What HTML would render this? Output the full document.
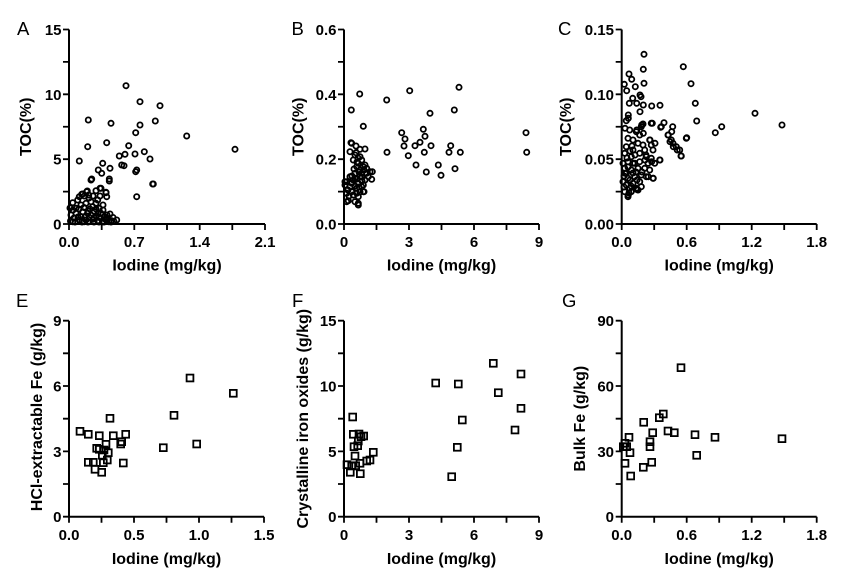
<!DOCTYPE html>
<html><head><meta charset="utf-8"><style>
html,body{margin:0;padding:0;background:#fff;}
svg{display:block;}
.ax{stroke:#000;stroke-width:2;fill:none;}
.tk{stroke:#000;stroke-width:1.8;}
.c circle{fill:none;stroke:#000;stroke-width:1.8;}
.s rect{fill:none;stroke:#000;stroke-width:1.8;}
text{font-family:"Liberation Sans",Arial,sans-serif;fill:#000;}
.tl{font-size:15px;font-weight:bold;}
.ti{font-size:16px;font-weight:bold;}
.pl{font-size:18.5px;}
</style></head><body>
<svg width="864" height="586" viewBox="0 0 864 586" xmlns="http://www.w3.org/2000/svg">
<rect width="864" height="586" fill="#fff"/>

<text class="pl" x="17" y="35">A</text>
<text class="pl" x="291.5" y="35">B</text>
<text class="pl" x="558" y="35">C</text>
<text class="pl" x="16" y="307">E</text>
<text class="pl" x="292" y="307">F</text>
<text class="pl" x="562" y="307">G</text>

<!-- ============ Panel A ============ -->
<path class="ax" d="M69,29.5 V225 M68,224 H265"/>
<path class="tk" d="M63,224H69M63,191.6H69M63,159.2H69M63,126.75H69M63,94.3H69M63,61.9H69M63,29.5H69
M69,224V230M101.7,224V230M134.3,224V230M167,224V230M199.7,224V230M232.3,224V230M265,224V230"/>
<g class="tl" text-anchor="end">
<text x="61.5" y="229.5">0</text><text x="61.5" y="164.7">5</text><text x="61.5" y="99.8">10</text><text x="61.5" y="35">15</text>
</g>
<g class="tl" text-anchor="middle">
<text x="69" y="247">0.0</text><text x="134.3" y="247">0.7</text><text x="199.7" y="247">1.4</text><text x="265" y="247">2.1</text>
</g>
<text class="ti" text-anchor="middle" x="167" y="270.5">Iodine (mg/kg)</text>
<text class="ti" text-anchor="middle" transform="translate(31,126.75) rotate(-90)">TOC(%)</text>
<g class="c">
<circle cx="126" cy="85.7" r="2.6"/><circle cx="140" cy="101.7" r="2.6"/><circle cx="160" cy="105.7" r="2.6"/>
<circle cx="88.3" cy="120" r="2.6"/><circle cx="111" cy="123.3" r="2.6"/><circle cx="155.3" cy="121" r="2.6"/>
<circle cx="140" cy="125" r="2.6"/><circle cx="135.7" cy="132.7" r="2.6"/><circle cx="186.7" cy="136" r="2.6"/>
<circle cx="106.7" cy="142.7" r="2.6"/><circle cx="128.7" cy="145.7" r="2.6"/><circle cx="87.7" cy="146.7" r="2.6"/>
<circle cx="235" cy="149.3" r="2.6"/><circle cx="119.3" cy="156" r="2.6"/><circle cx="125" cy="154.3" r="2.6"/>
<circle cx="135" cy="154" r="2.6"/><circle cx="144.3" cy="151.7" r="2.6"/><circle cx="150" cy="159" r="2.6"/>
<circle cx="79.3" cy="161" r="2.6"/><circle cx="102.7" cy="163.3" r="2.6"/><circle cx="121.7" cy="165" r="2.6"/>
<circle cx="124" cy="165.7" r="2.6"/><circle cx="110" cy="168.3" r="2.6"/><circle cx="98.3" cy="170" r="2.6"/>
<circle cx="101.7" cy="173.3" r="2.6"/><circle cx="136.7" cy="170" r="2.6"/><circle cx="135.7" cy="171.7" r="2.6"/>
<circle cx="91.7" cy="179" r="2.6"/><circle cx="109.3" cy="179" r="2.6"/><circle cx="153.3" cy="184" r="2.6"/>
<circle cx="106" cy="192.3" r="2.6"/><circle cx="136.7" cy="196.7" r="2.6"/><circle cx="100" cy="188.3" r="2.6"/>
<circle cx="91" cy="180" r="2.6"/><circle cx="109.3" cy="181" r="2.6"/><circle cx="152.7" cy="184" r="2.6"/>
<circle cx="72.7" cy="202.7" r="2.6"/><circle cx="79.3" cy="196.7" r="2.6"/><circle cx="82.7" cy="194" r="2.6"/>
<circle cx="86.7" cy="191.7" r="2.6"/><circle cx="84.3" cy="196" r="2.6"/><circle cx="88.7" cy="195" r="2.6"/>
<circle cx="96" cy="190.7" r="2.6"/><circle cx="101" cy="188.3" r="2.6"/><circle cx="106" cy="192.7" r="2.6"/>
<circle cx="106.7" cy="196.7" r="2.6"/><circle cx="76" cy="208.3" r="2.6"/><circle cx="81" cy="205" r="2.6"/>
<circle cx="86" cy="203.3" r="2.6"/><circle cx="91" cy="201.7" r="2.6"/><circle cx="96" cy="203.3" r="2.6"/>
<circle cx="97.7" cy="200" r="2.6"/><circle cx="92.7" cy="206.7" r="2.6"/><circle cx="99.3" cy="208.3" r="2.6"/>
<circle cx="101" cy="213.3" r="2.6"/><circle cx="71" cy="215" r="2.6"/><circle cx="76" cy="213.3" r="2.6"/>
<circle cx="82.7" cy="211.7" r="2.6"/><circle cx="87.7" cy="213.3" r="2.6"/><circle cx="94.3" cy="211.7" r="2.6"/>
<circle cx="104.3" cy="216.7" r="2.6"/><circle cx="106" cy="220" r="2.6"/><circle cx="108.7" cy="221.7" r="2.6"/>
<circle cx="72.7" cy="221.7" r="2.6"/><circle cx="79.3" cy="220" r="2.6"/><circle cx="86" cy="220" r="2.6"/>
<circle cx="92.7" cy="219.3" r="2.6"/><circle cx="97.7" cy="220.7" r="2.6"/><circle cx="81" cy="216.7" r="2.6"/>
<circle cx="89.3" cy="217.3" r="2.6"/><circle cx="96" cy="216" r="2.6"/><circle cx="84.3" cy="221.7" r="2.6"/>
<circle cx="102.7" cy="221.7" r="2.6"/><circle cx="77.7" cy="200" r="2.6"/><circle cx="111.7" cy="220.7" r="2.6"/>
<circle cx="116.7" cy="220" r="2.6"/><circle cx="106.7" cy="218.3" r="2.6"/><circle cx="81.7" cy="194.3" r="2.6"/>
<circle cx="87.3" cy="191" r="2.6"/><circle cx="90" cy="209" r="2.6"/><circle cx="74" cy="218" r="2.6"/>
<circle cx="99" cy="217" r="2.6"/><circle cx="113" cy="217.5" r="2.6"/><circle cx="70.5" cy="221" r="2.6"/>
<circle cx="94" cy="222" r="2.6"/><circle cx="103" cy="205" r="2.6"/><circle cx="110" cy="214" r="2.6"/>
<circle cx="75" cy="222" r="2.6"/><circle cx="78" cy="217" r="2.6"/><circle cx="82" cy="222" r="2.6"/>
<circle cx="85" cy="217" r="2.6"/><circle cx="88" cy="222" r="2.6"/><circle cx="91" cy="215" r="2.6"/>
<circle cx="94" cy="218" r="2.6"/><circle cx="99" cy="222" r="2.6"/><circle cx="101" cy="218.5" r="2.6"/>
<circle cx="104" cy="222" r="2.6"/><circle cx="107" cy="215" r="2.6"/><circle cx="111" cy="222" r="2.6"/>
<circle cx="114" cy="221.5" r="2.6"/><circle cx="73" cy="210" r="2.6"/><circle cx="79" cy="209" r="2.6"/>
<circle cx="84" cy="207.5" r="2.6"/><circle cx="88" cy="211" r="2.6"/><circle cx="96" cy="209" r="2.6"/>
<circle cx="98" cy="213" r="2.6"/><circle cx="103" cy="210" r="2.6"/><circle cx="70" cy="208" r="2.6"/>
<circle cx="89" cy="198" r="2.6"/><circle cx="93" cy="196" r="2.6"/><circle cx="100" cy="196" r="2.6"/>
</g>

<!-- ============ Panel B ============ -->
<path class="ax" d="M344,29.5 V225 M343,224 H539"/>
<path class="tk" d="M338,224H344M338,191.6H344M338,159.2H344M338,126.75H344M338,94.3H344M338,61.9H344M338,29.5H344
M344,224V230M376.5,224V230M409,224V230M441.5,224V230M474,224V230M506.5,224V230M539,224V230"/>
<g class="tl" text-anchor="end">
<text x="336.5" y="229.5">0.0</text><text x="336.5" y="164.7">0.2</text><text x="336.5" y="99.8">0.4</text><text x="336.5" y="35">0.6</text>
</g>
<g class="tl" text-anchor="middle">
<text x="344" y="247">0</text><text x="409" y="247">3</text><text x="474" y="247">6</text><text x="539" y="247">9</text>
</g>
<text class="ti" text-anchor="middle" x="441.5" y="270.5">Iodine (mg/kg)</text>
<text class="ti" text-anchor="middle" transform="translate(303.5,126.75) rotate(-90)">TOC(%)</text>
<g class="c">
<circle cx="409.7" cy="90.7" r="2.6"/><circle cx="459" cy="87.3" r="2.6"/><circle cx="359.7" cy="94" r="2.6"/>
<circle cx="386.7" cy="100" r="2.6"/><circle cx="351.3" cy="110" r="2.6"/><circle cx="454.3" cy="110" r="2.6"/>
<circle cx="430" cy="113.3" r="2.6"/><circle cx="363.3" cy="126.3" r="2.6"/><circle cx="423.3" cy="129.3" r="2.6"/>
<circle cx="401.7" cy="132.7" r="2.6"/><circle cx="405" cy="139" r="2.6"/><circle cx="425" cy="136.3" r="2.6"/>
<circle cx="526" cy="132.7" r="2.6"/><circle cx="420" cy="142.3" r="2.6"/><circle cx="415" cy="145.7" r="2.6"/>
<circle cx="404" cy="146" r="2.6"/><circle cx="431" cy="145.7" r="2.6"/><circle cx="450.7" cy="145.7" r="2.6"/>
<circle cx="365" cy="149" r="2.6"/><circle cx="424.3" cy="152.3" r="2.6"/><circle cx="449" cy="152.3" r="2.6"/>
<circle cx="460.3" cy="152.3" r="2.6"/><circle cx="387" cy="152.3" r="2.6"/><circle cx="408.3" cy="155.7" r="2.6"/>
<circle cx="526.7" cy="152.3" r="2.6"/><circle cx="416" cy="165" r="2.6"/><circle cx="438.3" cy="165" r="2.6"/>
<circle cx="455" cy="168.7" r="2.6"/><circle cx="426.3" cy="172" r="2.6"/><circle cx="441" cy="175.3" r="2.6"/>
<circle cx="351.7" cy="143.3" r="2.6"/><circle cx="356" cy="146" r="2.6"/><circle cx="350" cy="151.7" r="2.6"/>
<circle cx="355" cy="155" r="2.6"/><circle cx="353.3" cy="160" r="2.6"/><circle cx="358.3" cy="163.3" r="2.6"/>
<circle cx="365" cy="165" r="2.6"/><circle cx="366.7" cy="168.3" r="2.6"/><circle cx="370" cy="171.7" r="2.6"/>
<circle cx="368.3" cy="176.7" r="2.6"/><circle cx="371.7" cy="179.3" r="2.6"/><circle cx="360" cy="170" r="2.6"/>
<circle cx="355" cy="173.3" r="2.6"/><circle cx="360" cy="176.7" r="2.6"/><circle cx="353.3" cy="180" r="2.6"/>
<circle cx="346.7" cy="181.7" r="2.6"/><circle cx="358.3" cy="183.3" r="2.6"/><circle cx="363.3" cy="185" r="2.6"/>
<circle cx="350" cy="186.7" r="2.6"/><circle cx="356.7" cy="188.3" r="2.6"/><circle cx="363.3" cy="191.7" r="2.6"/>
<circle cx="346.7" cy="193.3" r="2.6"/><circle cx="353.3" cy="195" r="2.6"/><circle cx="358.3" cy="196.7" r="2.6"/>
<circle cx="348.3" cy="200.7" r="2.6"/><circle cx="355" cy="201.7" r="2.6"/><circle cx="358.3" cy="205" r="2.6"/>
<circle cx="351.7" cy="191.7" r="2.6"/><circle cx="356.7" cy="166.7" r="2.6"/><circle cx="361.7" cy="173.3" r="2.6"/>
<circle cx="365" cy="180" r="2.6"/><circle cx="355" cy="178.3" r="2.6"/><circle cx="361.7" cy="160" r="2.6"/>
<circle cx="360" cy="156.7" r="2.6"/><circle cx="350" cy="176.7" r="2.6"/><circle cx="345" cy="185" r="2.6"/>
<circle cx="363.3" cy="166.7" r="2.6"/><circle cx="366.7" cy="173.3" r="2.6"/><circle cx="356.7" cy="193.3" r="2.6"/>
<circle cx="351.7" cy="183.3" r="2.6"/><circle cx="361.7" cy="186.7" r="2.6"/><circle cx="346.7" cy="201.7" r="2.6"/>
<circle cx="358.3" cy="203.3" r="2.6"/><circle cx="372.3" cy="171.7" r="2.6"/><circle cx="351" cy="142.7" r="2.6"/>
<circle cx="360" cy="149.3" r="2.6"/><circle cx="356" cy="152.7" r="2.6"/><circle cx="364" cy="191.7" r="2.6"/>
<circle cx="345" cy="181.7" r="2.6"/><circle cx="358" cy="158" r="2.6"/><circle cx="362" cy="181" r="2.6"/>
<circle cx="354" cy="169" r="2.6"/><circle cx="348" cy="190" r="2.6"/><circle cx="359" cy="187" r="2.6"/>
<circle cx="357" cy="179" r="2.6"/><circle cx="362" cy="177" r="2.6"/><circle cx="359" cy="172" r="2.6"/>
<circle cx="364" cy="170" r="2.6"/><circle cx="357" cy="162" r="2.6"/><circle cx="352" cy="176" r="2.6"/>
<circle cx="360" cy="192" r="2.6"/><circle cx="355" cy="186" r="2.6"/><circle cx="349" cy="196" r="2.6"/>
</g>

<!-- ============ Panel C ============ -->
<path class="ax" d="M621.7,29.5 V225 M620.7,224 H816.7"/>
<path class="tk" d="M615.7,224H621.7M615.7,191.6H621.7M615.7,159.2H621.7M615.7,126.75H621.7M615.7,94.3H621.7M615.7,61.9H621.7M615.7,29.5H621.7
M621.7,224V230M654.2,224V230M686.7,224V230M719.2,224V230M751.7,224V230M784.2,224V230M816.7,224V230"/>
<g class="tl" text-anchor="end">
<text x="614" y="229.5">0.00</text><text x="614" y="164.7">0.05</text><text x="614" y="99.8">0.10</text><text x="614" y="35">0.15</text>
</g>
<g class="tl" text-anchor="middle">
<text x="621.7" y="247">0.0</text><text x="686.7" y="247">0.6</text><text x="751.7" y="247">1.2</text><text x="816.7" y="247">1.8</text>
</g>
<text class="ti" text-anchor="middle" x="719.2" y="270.5">Iodine (mg/kg)</text>
<text class="ti" text-anchor="middle" transform="translate(571,126.75) rotate(-90)">TOC(%)</text>
<g class="c">
<circle cx="644" cy="54.3" r="2.6"/><circle cx="683.3" cy="66.7" r="2.6"/><circle cx="643.3" cy="69.3" r="2.6"/>
<circle cx="629" cy="74" r="2.6"/><circle cx="631.7" cy="79.3" r="2.6"/><circle cx="624.3" cy="84.3" r="2.6"/>
<circle cx="644" cy="83.3" r="2.6"/><circle cx="635.3" cy="86.7" r="2.6"/><circle cx="691" cy="83.7" r="2.6"/>
<circle cx="626.7" cy="90.7" r="2.6"/><circle cx="641" cy="96.7" r="2.6"/><circle cx="632.7" cy="98.3" r="2.6"/>
<circle cx="640" cy="95" r="2.6"/><circle cx="695.3" cy="103.3" r="2.6"/><circle cx="660" cy="105.3" r="2.6"/>
<circle cx="651.7" cy="106" r="2.6"/><circle cx="629.3" cy="103.3" r="2.6"/><circle cx="636.7" cy="103.3" r="2.6"/>
<circle cx="643.3" cy="105" r="2.6"/><circle cx="755" cy="113.3" r="2.6"/><circle cx="640" cy="111.7" r="2.6"/>
<circle cx="628.3" cy="115" r="2.6"/><circle cx="628.3" cy="118.3" r="2.6"/><circle cx="696.7" cy="121" r="2.6"/>
<circle cx="664" cy="122.7" r="2.6"/><circle cx="652.3" cy="123.3" r="2.6"/><circle cx="641.7" cy="125" r="2.6"/>
<circle cx="782" cy="125" r="2.6"/><circle cx="660.7" cy="127.3" r="2.6"/><circle cx="672.7" cy="126.7" r="2.6"/>
<circle cx="721.7" cy="126.7" r="2.6"/><circle cx="625" cy="128.3" r="2.6"/><circle cx="636.7" cy="130" r="2.6"/>
<circle cx="671.7" cy="131.7" r="2.6"/><circle cx="715.3" cy="132.7" r="2.6"/><circle cx="668.3" cy="135" r="2.6"/>
<circle cx="686.7" cy="137.7" r="2.6"/><circle cx="643.3" cy="133.3" r="2.6"/><circle cx="670" cy="141.7" r="2.6"/>
<circle cx="673.3" cy="146.7" r="2.6"/><circle cx="677.3" cy="150" r="2.6"/><circle cx="681" cy="156" r="2.6"/>
<circle cx="650" cy="140" r="2.6"/><circle cx="655" cy="143.3" r="2.6"/><circle cx="660" cy="160" r="2.6"/>
<circle cx="651.7" cy="161.7" r="2.6"/><circle cx="646" cy="155" r="2.6"/><circle cx="653.3" cy="178.3" r="2.6"/>
<circle cx="648.3" cy="176.7" r="2.6"/><circle cx="636.7" cy="189.3" r="2.6"/><circle cx="628.3" cy="195" r="2.6"/>
<circle cx="625" cy="173.3" r="2.6"/>
<circle cx="626.3" cy="120.7" r="2.6"/><circle cx="641.3" cy="126.7" r="2.6"/><circle cx="651.3" cy="123.3" r="2.6"/>
<circle cx="643" cy="124" r="2.6"/><circle cx="661.3" cy="126.7" r="2.6"/><circle cx="668" cy="135" r="2.6"/>
<circle cx="671.3" cy="140" r="2.6"/><circle cx="673" cy="143.3" r="2.6"/><circle cx="676.3" cy="146.7" r="2.6"/>
<circle cx="679.7" cy="150" r="2.6"/><circle cx="681.3" cy="156" r="2.6"/><circle cx="686.3" cy="138.3" r="2.6"/>
<circle cx="636.3" cy="131.7" r="2.6"/><circle cx="639.7" cy="135" r="2.6"/><circle cx="628" cy="138.3" r="2.6"/>
<circle cx="633" cy="140" r="2.6"/><circle cx="638" cy="143.3" r="2.6"/><circle cx="643" cy="145" r="2.6"/>
<circle cx="649.7" cy="140" r="2.6"/><circle cx="651.3" cy="145" r="2.6"/><circle cx="653" cy="150" r="2.6"/>
<circle cx="644.7" cy="150" r="2.6"/><circle cx="639.7" cy="153.3" r="2.6"/><circle cx="633" cy="150" r="2.6"/>
<circle cx="626.3" cy="146.7" r="2.6"/><circle cx="624.7" cy="153.3" r="2.6"/><circle cx="631.3" cy="156.7" r="2.6"/>
<circle cx="646.3" cy="156.7" r="2.6"/><circle cx="651.3" cy="158.3" r="2.6"/><circle cx="659.7" cy="160" r="2.6"/>
<circle cx="654.7" cy="163.3" r="2.6"/><circle cx="648" cy="163.3" r="2.6"/><circle cx="639.7" cy="161.7" r="2.6"/>
<circle cx="634.7" cy="163.3" r="2.6"/><circle cx="628" cy="161.7" r="2.6"/><circle cx="623" cy="163.3" r="2.6"/>
<circle cx="624.7" cy="168.3" r="2.6"/><circle cx="631.3" cy="170" r="2.6"/><circle cx="638" cy="168.3" r="2.6"/>
<circle cx="644.7" cy="168.3" r="2.6"/><circle cx="649.7" cy="170" r="2.6"/><circle cx="641.3" cy="175" r="2.6"/>
<circle cx="646.3" cy="176.7" r="2.6"/><circle cx="653" cy="178.3" r="2.6"/><circle cx="634.7" cy="176.7" r="2.6"/>
<circle cx="628" cy="178.3" r="2.6"/><circle cx="623" cy="181.7" r="2.6"/><circle cx="626.3" cy="185" r="2.6"/>
<circle cx="633" cy="183.3" r="2.6"/><circle cx="639.7" cy="181.7" r="2.6"/><circle cx="629.7" cy="188.3" r="2.6"/>
<circle cx="636.3" cy="188.3" r="2.6"/><circle cx="624.7" cy="191.7" r="2.6"/><circle cx="631.3" cy="191.7" r="2.6"/>
<circle cx="628" cy="196.7" r="2.6"/><circle cx="638" cy="190" r="2.6"/><circle cx="641.3" cy="186.7" r="2.6"/>
<circle cx="626.3" cy="173.3" r="2.6"/><circle cx="633" cy="163.3" r="2.6"/><circle cx="629.7" cy="130" r="2.6"/>
<circle cx="630" cy="180" r="2.6"/><circle cx="636" cy="172" r="2.6"/><circle cx="627" cy="158" r="2.6"/>
<circle cx="632" cy="146" r="2.6"/><circle cx="645" cy="160" r="2.6"/><circle cx="631" cy="186" r="2.6"/>
<circle cx="624" cy="176" r="2.6"/><circle cx="628" cy="167" r="2.6"/><circle cx="635" cy="155" r="2.6"/>
<circle cx="630" cy="151" r="2.6"/><circle cx="637" cy="180" r="2.6"/><circle cx="633" cy="173" r="2.6"/>
<circle cx="624" cy="187" r="2.6"/><circle cx="629" cy="193" r="2.6"/><circle cx="642" cy="172" r="2.6"/>
</g>

<!-- ============ Panel E ============ -->
<path class="ax" d="M69,320.7 V517.7 M68,516.7 H264"/>
<path class="tk" d="M63,516.7H69M63,484H69M63,451.4H69M63,418.7H69M63,386H69M63,353.3H69M63,320.7H69
M69,516.7V522.7M101.5,516.7V522.7M134,516.7V522.7M166.5,516.7V522.7M199,516.7V522.7M231.5,516.7V522.7M264,516.7V522.7"/>
<g class="tl" text-anchor="end">
<text x="61.5" y="522.2">0</text><text x="61.5" y="456.9">3</text><text x="61.5" y="391.5">6</text><text x="61.5" y="326.2">9</text>
</g>
<g class="tl" text-anchor="middle">
<text x="69" y="540">0.0</text><text x="134" y="540">0.5</text><text x="199" y="540">1.0</text><text x="264" y="540">1.5</text>
</g>
<text class="ti" text-anchor="middle" x="166.5" y="564">Iodine (mg/kg)</text>
<text class="ti" text-anchor="middle" transform="translate(42,417) rotate(-90)">HCl-extractable Fe (g/kg)</text>
<g class="s">
<rect x="76.6" y="427.9" width="6.8" height="6.8"/><rect x="84.9" y="430.9" width="6.8" height="6.8"/>
<rect x="95.9" y="432.3" width="6.8" height="6.8"/><rect x="106.6" y="414.9" width="6.8" height="6.8"/>
<rect x="109.9" y="432.3" width="6.8" height="6.8"/><rect x="122.3" y="430.9" width="6.8" height="6.8"/>
<rect x="118.3" y="438.3" width="6.8" height="6.8"/><rect x="117.3" y="440.6" width="6.8" height="6.8"/>
<rect x="186.6" y="374.6" width="6.8" height="6.8"/><rect x="229.9" y="389.9" width="6.8" height="6.8"/>
<rect x="170.6" y="411.9" width="6.8" height="6.8"/><rect x="193.3" y="440.6" width="6.8" height="6.8"/>
<rect x="159.9" y="444.3" width="6.8" height="6.8"/><rect x="93.3" y="444.9" width="6.8" height="6.8"/>
<rect x="95.9" y="445.9" width="6.8" height="6.8"/><rect x="102.6" y="440.9" width="6.8" height="6.8"/>
<rect x="100.6" y="446.6" width="6.8" height="6.8"/><rect x="104.9" y="449.3" width="6.8" height="6.8"/>
<rect x="98.9" y="451.9" width="6.8" height="6.8"/><rect x="103.9" y="456.6" width="6.8" height="6.8"/>
<rect x="99.9" y="459.3" width="6.8" height="6.8"/><rect x="84.9" y="458.9" width="6.8" height="6.8"/>
<rect x="89.9" y="458.9" width="6.8" height="6.8"/><rect x="119.9" y="459.6" width="6.8" height="6.8"/>
<rect x="91.6" y="465.9" width="6.8" height="6.8"/><rect x="98.3" y="468.9" width="6.8" height="6.8"/>
</g>

<!-- ============ Panel F ============ -->
<path class="ax" d="M344,320.7 V517.7 M343,516.7 H539"/>
<path class="tk" d="M338,516.7H344M338,484H344M338,451.4H344M338,418.7H344M338,386H344M338,353.3H344M338,320.7H344
M344,516.7V522.7M376.5,516.7V522.7M409,516.7V522.7M441.5,516.7V522.7M474,516.7V522.7M506.5,516.7V522.7M539,516.7V522.7"/>
<g class="tl" text-anchor="end">
<text x="336.5" y="522.2">0</text><text x="336.5" y="456.9">5</text><text x="336.5" y="391.5">10</text><text x="336.5" y="326.2">15</text>
</g>
<g class="tl" text-anchor="middle">
<text x="344" y="540">0</text><text x="409" y="540">3</text><text x="474" y="540">6</text><text x="539" y="540">9</text>
</g>
<text class="ti" text-anchor="middle" x="441.5" y="564">Iodine (mg/kg)</text>
<text class="ti" text-anchor="middle" transform="translate(308,418.7) rotate(-90)">Crystalline iron oxides (g/kg)</text>
<g class="s">
<rect x="489.9" y="359.9" width="6.8" height="6.8"/><rect x="517.6" y="370.6" width="6.8" height="6.8"/>
<rect x="432.3" y="379.6" width="6.8" height="6.8"/><rect x="454.9" y="380.6" width="6.8" height="6.8"/>
<rect x="494.9" y="389.3" width="6.8" height="6.8"/><rect x="517.6" y="404.9" width="6.8" height="6.8"/>
<rect x="458.9" y="416.6" width="6.8" height="6.8"/><rect x="511.6" y="426.6" width="6.8" height="6.8"/>
<rect x="453.9" y="443.9" width="6.8" height="6.8"/><rect x="448.3" y="473.3" width="6.8" height="6.8"/>
<rect x="349.3" y="413.6" width="6.8" height="6.8"/><rect x="349.9" y="430.9" width="6.8" height="6.8"/>
<rect x="355.6" y="430.6" width="6.8" height="6.8"/><rect x="360.3" y="432.6" width="6.8" height="6.8"/>
<rect x="354.9" y="437.6" width="6.8" height="6.8"/><rect x="350.6" y="443.3" width="6.8" height="6.8"/>
<rect x="354.3" y="442.3" width="6.8" height="6.8"/><rect x="351.6" y="452.6" width="6.8" height="6.8"/>
<rect x="369.9" y="448.9" width="6.8" height="6.8"/><rect x="363.3" y="457.6" width="6.8" height="6.8"/>
<rect x="366.6" y="456.6" width="6.8" height="6.8"/><rect x="343.6" y="461.3" width="6.8" height="6.8"/>
<rect x="348.3" y="462.6" width="6.8" height="6.8"/><rect x="356.6" y="459.9" width="6.8" height="6.8"/>
<rect x="352.3" y="462.3" width="6.8" height="6.8"/><rect x="346.9" y="468.9" width="6.8" height="6.8"/>
<rect x="356.9" y="470.3" width="6.8" height="6.8"/><rect x="357.6" y="433.3" width="6.8" height="6.8"/>
</g>

<!-- ============ Panel G ============ -->
<path class="ax" d="M621.7,320.7 V517.7 M620.7,516.7 H816.7"/>
<path class="tk" d="M615.7,516.7H621.7M615.7,484H621.7M615.7,451.4H621.7M615.7,418.7H621.7M615.7,386H621.7M615.7,353.3H621.7M615.7,320.7H621.7
M621.7,516.7V522.7M654.2,516.7V522.7M686.7,516.7V522.7M719.2,516.7V522.7M751.7,516.7V522.7M784.2,516.7V522.7M816.7,516.7V522.7"/>
<g class="tl" text-anchor="end">
<text x="614" y="522.2">0</text><text x="614" y="456.9">30</text><text x="614" y="391.5">60</text><text x="614" y="326.2">90</text>
</g>
<g class="tl" text-anchor="middle">
<text x="621.7" y="540">0.0</text><text x="686.7" y="540">0.6</text><text x="751.7" y="540">1.2</text><text x="816.7" y="540">1.8</text>
</g>
<text class="ti" text-anchor="middle" x="719.2" y="564">Iodine (mg/kg)</text>
<text class="ti" text-anchor="middle" transform="translate(585,418.7) rotate(-90)">Bulk Fe (g/kg)</text>
<g class="s">
<rect x="677.6" y="364.3" width="6.8" height="6.8"/><rect x="659.9" y="410.6" width="6.8" height="6.8"/>
<rect x="655.9" y="414.3" width="6.8" height="6.8"/><rect x="640.3" y="418.9" width="6.8" height="6.8"/>
<rect x="664.6" y="427.6" width="6.8" height="6.8"/><rect x="670.9" y="429.3" width="6.8" height="6.8"/>
<rect x="649.3" y="429.3" width="6.8" height="6.8"/><rect x="691.6" y="431.3" width="6.8" height="6.8"/>
<rect x="711.6" y="433.9" width="6.8" height="6.8"/><rect x="778.6" y="435.3" width="6.8" height="6.8"/>
<rect x="625.6" y="433.9" width="6.8" height="6.8"/><rect x="621.6" y="439.9" width="6.8" height="6.8"/>
<rect x="646.6" y="438.3" width="6.8" height="6.8"/><rect x="623.3" y="443.3" width="6.8" height="6.8"/>
<rect x="646.6" y="443.3" width="6.8" height="6.8"/><rect x="619.9" y="443.3" width="6.8" height="6.8"/>
<rect x="626.6" y="449.3" width="6.8" height="6.8"/><rect x="693.3" y="451.9" width="6.8" height="6.8"/>
<rect x="621.6" y="459.9" width="6.8" height="6.8"/><rect x="648.3" y="458.9" width="6.8" height="6.8"/>
<rect x="639.9" y="463.9" width="6.8" height="6.8"/><rect x="627.3" y="472.6" width="6.8" height="6.8"/>
</g>
</svg>
</body></html>
